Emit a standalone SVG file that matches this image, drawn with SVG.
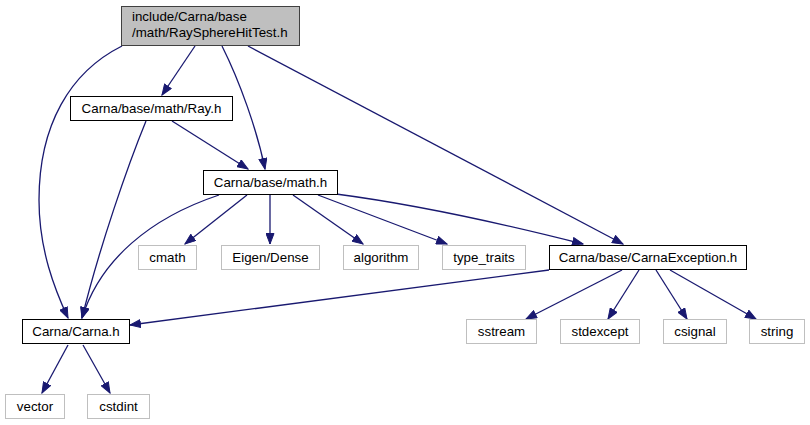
<svg xmlns="http://www.w3.org/2000/svg" width="810" height="425" viewBox="0 0 810 425">
<defs>
<style>
.n rect{fill:#fff;stroke:#000;stroke-width:1}
.g rect{fill:#fff;stroke:#bfbfbf;stroke-width:1}
.r rect{fill:#bfbfbf;stroke:#404040;stroke-width:1}
text{font-family:"Liberation Sans",Arial,sans-serif;font-size:13.33px;fill:#000}
.c{text-anchor:middle}
.e path{fill:none;stroke:#191970;stroke-width:1.3;marker-end:url(#ah)}
</style>
<marker id="ah" markerUnits="userSpaceOnUse" markerWidth="12" markerHeight="9" refX="11" refY="4.5" orient="auto">
<path d="M0.5,0.5 L11,4.5 L0.5,8.5 z" fill="#191970" stroke="#191970" stroke-width="1"/>
</marker>
</defs>
<g id="edges" class="e">
<path d="M122,46 C70,72 39,125 39,200 C39,250 55,290 68,318"/>
<path d="M195,46 L162,95"/>
<path d="M222,46 C240,82 257,130 265,169"/>
<path d="M248,46 L623,244"/>
<path d="M172,121 L248,169"/>
<path d="M146,121 C128,165 100,245 82,318"/>
<path d="M219,195 C150,218 100,260 82,318"/>
<path d="M247,195 L185,244"/>
<path d="M270,195 L270,244"/>
<path d="M293,195 L363,244"/>
<path d="M318,195 L447,244"/>
<path d="M336,194 C420,205 520,228 583,244"/>
<path d="M549,270 L130,325"/>
<path d="M622,270 L526,319"/>
<path d="M639,270 L608,319"/>
<path d="M656,270 L687,319"/>
<path d="M670,270 L756,319"/>
<path d="M68,345 L42,393"/>
<path d="M83,345 L110,393"/>
</g>
<g id="n_root" class="r"><rect x="121.5" y="6.5" width="178" height="39"/><text x="132" y="21">include/Carna/base</text><text x="132" y="37">/math/RaySphereHitTest.h</text></g>
<g id="n_ray" class="n"><rect x="70.5" y="96.5" width="162" height="24"/><text class="c" x="151.5" y="113">Carna/base/math/Ray.h</text></g>
<g id="n_math" class="n"><rect x="203.5" y="170.5" width="134" height="24"/><text class="c" x="270.5" y="187">Carna/base/math.h</text></g>
<g id="n_exc" class="n"><rect x="549.5" y="245.5" width="197" height="24"/><text class="c" x="648" y="262">Carna/base/CarnaException.h</text></g>
<g id="n_carna" class="n"><rect x="22.5" y="319.5" width="107" height="24"/><text class="c" x="76" y="336">Carna/Carna.h</text></g>
<g id="n_cmath" class="g"><rect x="138.5" y="245.5" width="58" height="24"/><text class="c" x="167.5" y="262">cmath</text></g>
<g id="n_eigen" class="g"><rect x="221.5" y="245.5" width="98" height="24"/><text class="c" x="270.5" y="262">Eigen/Dense</text></g>
<g id="n_algo" class="g"><rect x="343.5" y="245.5" width="75" height="24"/><text class="c" x="381" y="262">algorithm</text></g>
<g id="n_tt" class="g"><rect x="442.5" y="245.5" width="83" height="24"/><text class="c" x="484" y="262">type_traits</text></g>
<g id="n_sstream" class="g"><rect x="466.5" y="319.5" width="70" height="24"/><text class="c" x="501.5" y="336">sstream</text></g>
<g id="n_stdexcept" class="g"><rect x="560.5" y="319.5" width="79" height="24"/><text class="c" x="600" y="336">stdexcept</text></g>
<g id="n_csignal" class="g"><rect x="663.5" y="319.5" width="63" height="24"/><text class="c" x="695" y="336">csignal</text></g>
<g id="n_string" class="g"><rect x="749.5" y="319.5" width="55" height="24"/><text class="c" x="777" y="336">string</text></g>
<g id="n_vector" class="g"><rect x="5.5" y="394.5" width="59" height="24"/><text class="c" x="35" y="411">vector</text></g>
<g id="n_cstdint" class="g"><rect x="87.5" y="394.5" width="62" height="24"/><text class="c" x="118.5" y="411">cstdint</text></g>
</svg>
